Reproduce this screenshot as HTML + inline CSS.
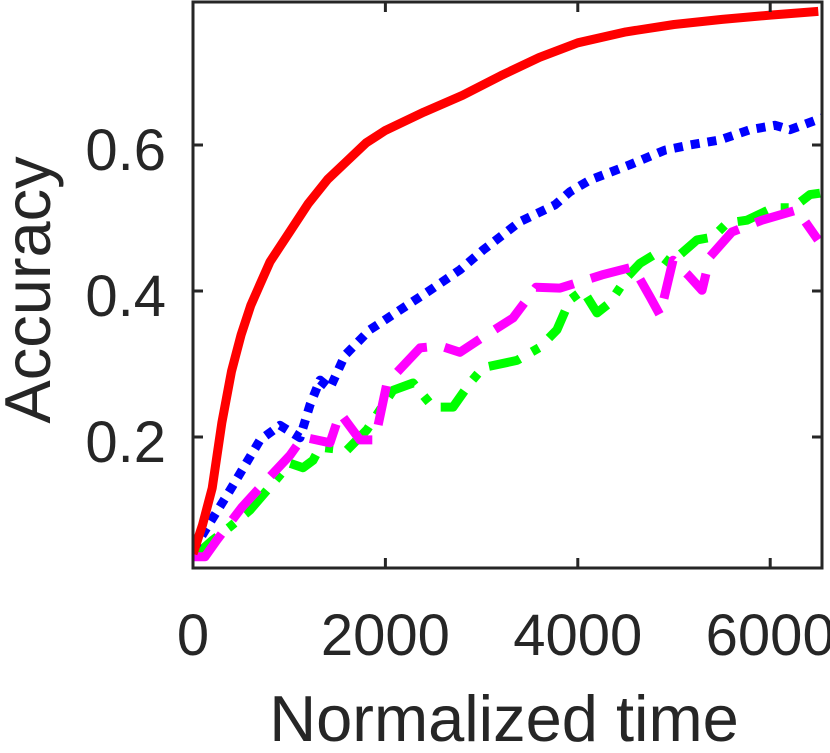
<!DOCTYPE html>
<html><head><meta charset="utf-8"><style>
html,body{margin:0;padding:0;background:#fff;}
svg{display:block;font-family:"Liberation Sans",sans-serif;}
</style></head><body>
<svg id="chart" width="830" height="753" viewBox="0 0 830 753">
<defs><clipPath id="clip"><rect x="193" y="2" width="629" height="566"/></clipPath></defs>
<g id="series" clip-path="url(#clip)"></g>
<g id="axes"></g>
<text x="504" y="741" font-size="65" text-anchor="middle" fill="#262626">Normalized time</text>
<text transform="translate(50,290) rotate(-90)" font-size="65" text-anchor="middle" fill="#262626">Accuracy</text>
</svg>
<script>
const xTicks=[0,2000,4000,6000];
const yTicks=[0.2,0.4,0.6];
const yTickLabels=["0.2","0.4","0.6"];
const redX=[0,100,200,300,400,500,600,700,800,900,1000,1200,1400,1600,1800,2000,2400,2800,3200,3600,4000,4500,5000,5500,6000,6500];
const redY=[0.04,0.08,0.13,0.22,0.29,0.34,0.38,0.41,0.44,0.46,0.48,0.52,0.553,0.578,0.603,0.62,0.645,0.668,0.695,0.72,0.74,0.755,0.765,0.772,0.778,0.783];
const blueX=[0,385,697,904,1112,1216,1320,1424,1580,1840,2152,2464,2775,3015,3399,3763,3919,4127,4543,4906,5166,5478,5790,6050,6206,6538];
const blueY=[0.045,0.127,0.196,0.216,0.199,0.244,0.278,0.267,0.312,0.347,0.374,0.401,0.429,0.456,0.495,0.518,0.536,0.552,0.573,0.593,0.6,0.607,0.621,0.627,0.621,0.637];
const magX=[0,125,249,509,717,1008,1143,1424,1528,1736,1892,2017,2360,2568,2775,3015,3326,3565,3815,4252,4574,4751,4854,4990,5146,5291,5374,5603,5915,6279,6497];
const magY=[0.036,0.036,0.059,0.104,0.134,0.175,0.2,0.192,0.233,0.196,0.196,0.274,0.322,0.325,0.316,0.337,0.363,0.405,0.404,0.422,0.433,0.392,0.367,0.442,0.422,0.401,0.447,0.481,0.497,0.511,0.47];
const grnX=[0,208,385,593,769,1008,1143,1247,1320,1601,1809,2079,2287,2495,2703,2879,3015,3368,3607,3784,3919,4054,4200,4335,4511,4647,4823,4958,5239,5405,5551,5759,6029,6237,6414,6518];
const grnY=[0.035,0.059,0.077,0.1,0.127,0.164,0.158,0.168,0.186,0.182,0.21,0.264,0.274,0.241,0.241,0.274,0.295,0.305,0.323,0.347,0.388,0.401,0.37,0.384,0.419,0.438,0.452,0.438,0.47,0.474,0.493,0.497,0.514,0.514,0.532,0.534];
const X0=193,X1=822,Y0=2,Y1=568;
const xs=v=>193+v*0.0962;
const ys=v=>583-v*730;
const NS="http://www.w3.org/2000/svg";
function mk(tag,attrs,parent){const e=document.createElementNS(NS,tag);for(const k in attrs)e.setAttribute(k,attrs[k]);parent.appendChild(e);return e;}
const S=document.getElementById('series');
function line(X,Y,color,dash,name){
  const d=X.map((x,i)=>(i?'L':'M')+xs(x).toFixed(1)+','+ys(Y[i]).toFixed(1)).join('');
  const p=mk('path',{d:d,fill:'none',stroke:color,'stroke-width':9,'stroke-linejoin':'round'},S);
  if(dash)p.setAttribute('stroke-dasharray',dash);
  
  
}
line(grnX,grnY,'#00ff00','32 14 8 14','series-green-dashdot');
line(magX,magY,'#ff00ff','40 18','series-magenta-dashed');
line(blueX,blueY,'#0000ff','9 8','series-blue-dotted');
line(redX,redY,'#ff0000',null,'series-red-solid');
const A=document.getElementById('axes');
const c='#262626';
const box=mk('rect',{x:X0,y:Y0,width:X1-X0,height:Y1-Y0,fill:'none',stroke:c,'stroke-width':3},A);


xTicks.forEach(t=>{
  const x=xs(t);
  mk('line',{x1:x,y1:Y1,x2:x,y2:Y1-10,stroke:c,'stroke-width':3},A);
  mk('line',{x1:x,y1:Y0,x2:x,y2:Y0+10,stroke:c,'stroke-width':3},A);
  const tx=mk('text',{x:x,y:655,'font-size':58,'text-anchor':'middle',fill:c},A);
  tx.textContent=String(t);
  
  
});
yTicks.forEach((t,i)=>{
  const y=ys(t);
  mk('line',{x1:X0,y1:y,x2:X0+10,y2:y,stroke:c,'stroke-width':3},A);
  mk('line',{x1:X1,y1:y,x2:X1-10,y2:y,stroke:c,'stroke-width':3},A);
  const tx=mk('text',{x:166,y:y+25,'font-size':58,'text-anchor':'end',fill:c},A);
  tx.textContent=yTickLabels[i];
  
  
});
</script>
</body></html>
